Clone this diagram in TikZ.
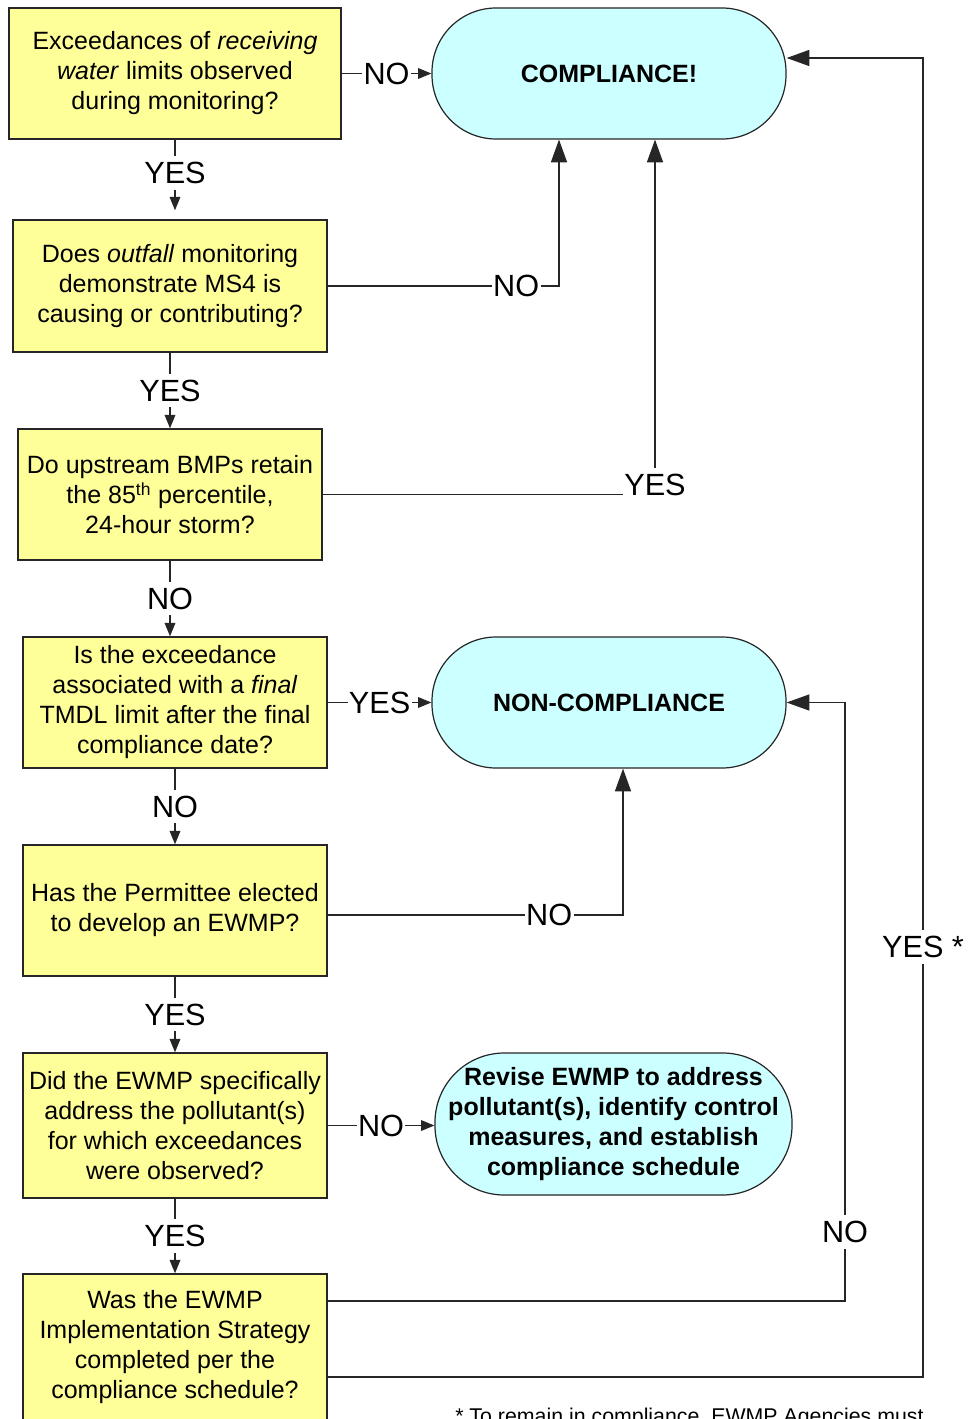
\documentclass[tikz,border=0pt]{standalone}
\usepackage{fontspec}
\setmainfont{Liberation Sans}
\usetikzlibrary{arrows.meta,calc}
\definecolor{qyellow}{HTML}{FFFF99}
\definecolor{tcyan}{HTML}{CCFFFF}
\begin{document}
\begin{tikzpicture}[x=0.75pt,y=-0.75pt,
  qbox/.style={draw=black!85, line width=1.1pt, fill=qyellow, align=center, inner sep=0pt, font=\fontsize{18.75}{22.5}\selectfont},
  term/.style={draw=black!85, line width=0.9pt, fill=tcyan, align=center, inner sep=0pt, font=\fontsize{18.75}{22.5}\selectfont\bfseries},
  lab/.style={fill=white, inner xsep=1pt, inner ysep=4.5pt, font=\fontsize{23}{27}\selectfont},
  conn/.style={draw=black!85, line width=0.9pt},
  sarrow/.style={conn, -{Triangle[length=10pt,width=8pt]}},
  barrow/.style={conn, -{Triangle[length=17pt,width=12pt]}},
]
\useasboundingbox (0,0) rectangle (969,1419);

% question boxes
\node[qbox, minimum width=249pt, minimum height=98.25pt] (B1) at (175,73.5)
  {Exceedances of \textit{receiving}\\ \textit{water} limits observed\\ during monitoring?};
\node[qbox, minimum width=235.5pt, minimum height=99pt] (B2) at (170,286)
  {Does \textit{outfall} monitoring\\ demonstrate MS4 is\\ causing or contributing?};
\node[qbox, minimum width=228pt, minimum height=98.25pt] (B3) at (170,494.5)
  {Do upstream BMPs retain\\ the 85\textsuperscript{th} percentile,\\ 24-hour storm?};
\node[qbox, minimum width=228pt, minimum height=98.25pt] (B4) at (175,702.5)
  {Is the exceedance\\ associated with a \textit{final}\\ TMDL limit after the final\\ compliance date?};
\node[qbox, minimum width=228pt, minimum height=98.25pt] (B5) at (175,910.5)
  {Has the Permittee elected\\ to develop an EWMP?};
\node[qbox, minimum width=228pt, minimum height=108.75pt] (B6) at (175,1125.5)
  {Did the EWMP specifically\\ address the pollutant(s)\\ for which exceedances\\ were observed?};
\node[qbox, minimum width=228pt, minimum height=109.5pt] (B7) at (175,1347)
  {Was the EWMP\\ Implementation Strategy\\ completed per the\\ compliance schedule?};

% terminals
\node[term, rounded corners=48pt, minimum width=265.5pt, minimum height=98.25pt] (C) at (609,73.5) {COMPLIANCE!};
\node[term, rounded corners=48pt, minimum width=265.5pt, minimum height=98.25pt] (NC) at (609,702.5) {NON-COMPLIANCE};
\node[term, rounded corners=52pt, minimum width=267.75pt, minimum height=106.5pt] (R) at (613.5,1124)
  {Revise EWMP to address\\ pollutant(s), identify control\\ measures, and establish\\ compliance schedule};

% vertical main flow
\draw[sarrow, shorten >=6.75pt] (B1.south) -- node[lab,pos=.42]{YES} (B1.south |- B2.north);
\draw[sarrow] (B2.south) -- node[lab]{YES} (B2.south |- B3.north);
\draw[sarrow] (B3.south) -- node[lab]{NO} (B3.south |- B4.north);
\draw[sarrow] (B4.south) -- node[lab]{NO} (B5.north);
\draw[sarrow] (B5.south) -- node[lab]{YES} (B6.north);
\draw[sarrow] (B6.south) -- node[lab]{YES} (B7.north);

% short horizontal
\draw[sarrow] (B1.east) -- node[lab]{NO} (C.west);
\draw[sarrow] (B4.east) -- node[lab]{YES} (NC.west);
\draw[sarrow] (B6.east) -- node[lab]{NO} (B6.east -| R.west);

% elbows
\coordinate (k2) at (559,286);
\draw[barrow] (B2.east) -- node[lab,pos=.815]{NO} (k2) -- (k2 |- C.south);

\coordinate (k3) at (655,494.5);
\draw[barrow] (B3.east) -- (k3) node[lab,yshift=7.5pt]{YES} -- (k3 |- C.south);

\coordinate (k11) at (623,915);
\draw[barrow] ($(B5.east)+(0,4.5)$) -- node[lab,pos=.75]{NO} (k11) -- (k11 |- NC.south);

\coordinate (k13a) at (845,1301);
\coordinate (k13b) at (845,702.5);
\draw[barrow] ($(B7.east)+(0,-46)$) -- (k13a) -- node[lab,pos=.115]{NO} (k13b) -- (NC.east);

\coordinate (k14a) at (923,1377);
\coordinate (k14b) at (923,58);
\draw[barrow] ($(B7.east)+(0,30)$) -- (k14a) -- node[lab,pos=.326]{YES *} (k14b) -- (k14b -| C.east);

% footnote
\node[anchor=base west, font=\fontsize{16}{19}\selectfont, inner sep=0pt] (fn) at (455,1423)
  {* To remain in compliance, EWMP Agencies must};
\end{tikzpicture}
\end{document}
